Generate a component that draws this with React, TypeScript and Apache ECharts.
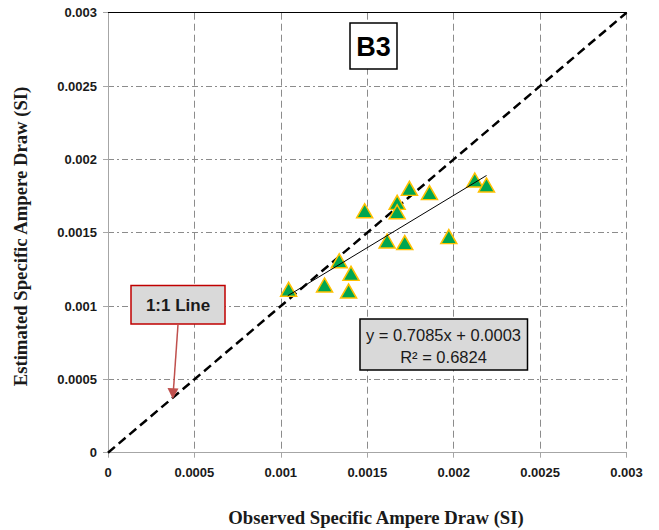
import React, { useEffect, useRef } from "react";
import * as echarts from "echarts";

const observed = [0.001045, 0.001253, 0.001338, 0.001406, 0.001392, 0.001485, 0.001615, 0.001673, 0.001673, 0.001717, 0.001744, 0.00186, 0.001972, 0.002122, 0.00219];
const estimated = [0.001114, 0.001143, 0.001309, 0.001223, 0.001102, 0.00165, 0.001443, 0.001707, 0.001643, 0.001432, 0.001802, 0.001773, 0.001473, 0.001859, 0.001825];
const trendX = [0.00104, 0.00219];
const trendY = [0.00107, 0.00189];
const oneToOne = [0, 0.003];
const tickLabels = ["0", "0.0005", "0.001", "0.0015", "0.002", "0.0025", "0.003"];
const titleText = "B3";
const equationLines = ["y = 0.7085x + 0.0003", "R² = 0.6824"];
const lineLabel = "1:1 Line";
const xAxisName = "Observed Specific Ampere Draw (SI)";
const yAxisName = "Estimated Specific Ampere Draw (SI)";

const fmt = (v: number) => tickLabels[Math.round(v / 0.0005)] ?? String(v);

export default function App() {
  const ref = useRef<HTMLDivElement>(null);
  useEffect(() => {
    if (!ref.current) return;
    const chart = echarts.init(ref.current, null, { renderer: "svg" });
    const tickFont = { fontFamily: "Liberation Sans", fontWeight: "bold" as const, fontSize: 13, color: "#1a1a1a" };
    const nameFontCss = "bold 18.7px 'Liberation Serif'";
    const Z = 100;
    chart.setOption({
      animation: false,
      backgroundColor: "#ffffff",
      grid: { left: 108, right: 32.5, top: 12.7, bottom: 77.3 },
      xAxis: [
        {
          type: "value",
          min: 0,
          max: 0.003,
          interval: 0.0005,
          axisLine: { show: true, lineStyle: { color: "#a6a6a6", width: 1 } },
          axisTick: { show: true, length: 5, lineStyle: { color: "#a6a6a6" } },
          axisLabel: { ...tickFont, margin: 13, formatter: fmt },
          splitLine: { show: true, lineStyle: { color: "#8c8c8c", width: 1, type: [7, 4] } },
        },
        {
          type: "value",
          position: "top",
          min: 0,
          max: 0.003,
          interval: 0.0005,
          axisLine: { show: true, onZero: false, lineStyle: { color: "#000000", width: 1 } },
          axisTick: { show: false },
          axisLabel: { show: false },
          splitLine: { show: false },
        },
      ],
      yAxis: {
        type: "value",
        min: 0,
        max: 0.003,
        interval: 0.0005,
        axisLine: { show: true, lineStyle: { color: "#a6a6a6", width: 1 } },
        axisTick: { show: true, length: 5, lineStyle: { color: "#a6a6a6" } },
        axisLabel: { ...tickFont, margin: 11, formatter: fmt },
        splitLine: { show: true, lineStyle: { color: "#8c8c8c", width: 1, type: [6, 3, 2, 3] } },
      },
      series: [
        {
          type: "line",
          data: oneToOne.map((v) => [v, v]),
          showSymbol: false,
          symbol: "none",
          lineStyle: { color: "#000000", width: 2.5, type: [9, 5] },
          z: 3,
          silent: true,
        },
        {
          type: "scatter",
          data: observed.map((x, i) => [x, estimated[i]]),
          symbol: "triangle",
          symbolSize: [16, 14],
          itemStyle: { color: "#00a650", borderColor: "#ffc000", borderWidth: 1.5, opacity: 1 },
          z: 4,
        },
        {
          type: "line",
          data: trendX.map((x, i) => [x, trendY[i]]),
          showSymbol: false,
          symbol: "none",
          lineStyle: { color: "#000000", width: 1 },
          z: 5,
          silent: true,
        },
      ],
      graphic: [
        { type: "text", z: Z, x: 376, y: 517, style: { text: xAxisName, fill: "#1a1a1a", font: nameFontCss, align: "center", verticalAlign: "middle" } },
        { type: "text", z: Z, x: 20, y: 236.5, rotation: Math.PI / 2, style: { text: yAxisName, fill: "#1a1a1a", font: nameFontCss, align: "center", verticalAlign: "middle" } },
        { type: "rect", z: Z, shape: { x: 350, y: 23, width: 47, height: 46 }, style: { fill: "#ffffff", stroke: "#000000", lineWidth: 1.5 } },
        { type: "text", z: Z + 1, x: 373.5, y: 47, style: { text: titleText, fill: "#000000", font: "bold 27px 'Liberation Sans'", align: "center", verticalAlign: "middle" } },
        { type: "rect", z: Z, shape: { x: 131, y: 285.5, width: 94, height: 38.5 }, style: { fill: "#d9d9d9", stroke: "#c00000", lineWidth: 1.5 } },
        { type: "text", z: Z + 1, x: 178, y: 305, style: { text: lineLabel, fill: "#1a1a1a", font: "bold 17px 'Liberation Sans'", align: "center", verticalAlign: "middle" } },
        { type: "line", z: Z, shape: { x1: 178, y1: 324.5, x2: 173.5, y2: 389 }, style: { stroke: "#c0504d", lineWidth: 1.5 } },
        { type: "polygon", z: Z, shape: { points: [[167.5, 388], [178.5, 388.5], [172.8, 399]] }, style: { fill: "#c0504d" } },
        { type: "rect", z: Z, shape: { x: 360, y: 319, width: 167.5, height: 51 }, style: { fill: "#d9d9d9", stroke: "#000000", lineWidth: 1.5 } },
        { type: "text", z: Z + 1, x: 443.5, y: 335, style: { text: equationLines[0], fill: "#1a1a1a", font: "16.5px 'Liberation Sans'", align: "center", verticalAlign: "middle" } },
        { type: "text", z: Z + 1, x: 443.5, y: 357, style: { text: equationLines[1], fill: "#1a1a1a", font: "16.5px 'Liberation Sans'", align: "center", verticalAlign: "middle" } },
      ],
    });
    return () => chart.dispose();
  }, []);
  return <div ref={ref} style={{ position: "fixed", left: 0, top: 0, width: 659, height: 530 }} />;
}
